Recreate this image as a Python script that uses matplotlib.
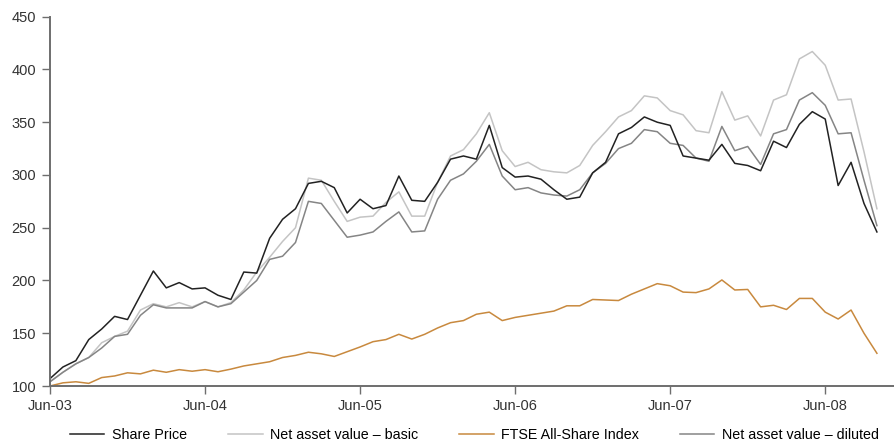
import matplotlib
matplotlib.use("Agg")
import matplotlib.pyplot as plt
import numpy as np
import pandas as pd

plt.rcParams['font.family'] = ['Liberation Sans Narrow', 'Liberation Sans', 'DejaVu Sans']

# monthly values, Jun-03 .. Oct-08, rebased to 100
share_price = [107, 118, 124, 144, 154, 166, 163, 186, 209, 193, 198, 192, 193, 186, 182,
               208, 207, 240, 258, 268, 292, 294, 288, 264, 277, 268, 271, 299, 276, 275,
               293, 315, 318, 315, 347, 307, 298, 299, 296, 286, 277, 279, 302, 312, 339,
               345, 355, 350, 347, 318, 316, 314, 329, 311, 309, 304, 332, 326, 348, 360,
               353, 290, 312, 273, 246]
nav_basic = [104, 113, 121, 127, 141, 147, 152, 172, 178, 175, 179, 175, 180, 175, 179,
             191, 208, 222, 237, 250, 297, 295, 275, 256, 260, 261, 274, 284, 261, 261,
             293, 318, 324, 339, 359, 323, 308, 312, 305, 303, 302, 309, 328, 341, 355,
             361, 375, 373, 361, 357, 342, 340, 379, 352, 356, 337, 371, 376, 410, 417,
             404, 371, 372, 322, 268]
ftse = [100, 103, 104, 102.5, 108, 109.5, 112.5, 111.5, 115, 113, 115.5, 114, 115.5, 113.5, 116,
        119, 121, 123, 127, 129, 132, 130.5, 128, 132.5, 137, 142, 144, 149, 144.5, 149,
        155, 160, 162, 168, 170, 162, 165, 167, 169, 171, 176, 176, 182, 181.5, 181,
        187, 192, 197, 195, 189, 188.5, 192, 200.5, 191, 191.5, 175, 176.5, 172.5, 183, 183,
        170, 163.5, 172, 150, 131]
nav_diluted = [104, 113, 121, 127, 136, 147, 149, 167, 177, 174, 174, 174, 180, 175, 178,
               189, 200, 220, 223, 236, 275, 273, 257, 241, 243, 246, 256, 265, 246, 247,
               277, 295, 301, 313, 329, 299, 286, 288, 283, 281, 280, 286, 302, 311, 325,
               330, 343, 341, 330, 328, 316, 313, 346, 323, 327, 310, 339, 343, 371, 378,
               366, 339, 340, 295, 252]

months = pd.date_range("2003-06-01", periods=len(share_price), freq="MS")
x = np.arange(len(months))

fig = plt.figure(figsize=(8.95, 4.42), dpi=100)
ax = fig.add_axes([50 / 895, 1 - 386 / 442, 1 - 50 / 895, (386 - 16.7) / 442])

l2, = ax.plot(x, nav_basic, color="#c4c4c4", lw=1.1, label="Net asset value \u2013 basic")
l4, = ax.plot(x, nav_diluted, color="#858585", lw=1.1, label="Net asset value \u2013 diluted")
l3, = ax.plot(x, ftse, color="#c8893e", lw=1.1, label="FTSE All-Share Index")
l1, = ax.plot(x, share_price, color="#222222", lw=1.1, label="Share Price")

ax.set_ylim(100, 450)
ax.set_xlim(0, 65.4)
ax.set_yticks(range(100, 451, 50))
jun = [i for i, m in enumerate(months) if m.month == 6]
ax.set_xticks(jun)
ax.set_xticklabels([months[i].strftime("%b-%y") for i in jun])

for s in ["top", "right"]:
    ax.spines[s].set_visible(False)
for s in ["left", "bottom"]:
    ax.spines[s].set_color("#6e6e6e")
    ax.spines[s].set_linewidth(1.4)
ax.tick_params(axis="both", colors="#6e6e6e", labelcolor="#333333", labelsize=10.5,
               length=6, width=1)
ax.tick_params(axis="y", pad=4)
ax.tick_params(axis="x", pad=3)

fig.legend(handles=[l1, l2, l3, l4], loc="center", bbox_to_anchor=(0.53, 0.016),
           ncol=4, frameon=False, fontsize=10.3, handlelength=2.4,
           handletextpad=0.5, columnspacing=2.9, borderpad=0)

fig.savefig("out.png", dpi=100)
